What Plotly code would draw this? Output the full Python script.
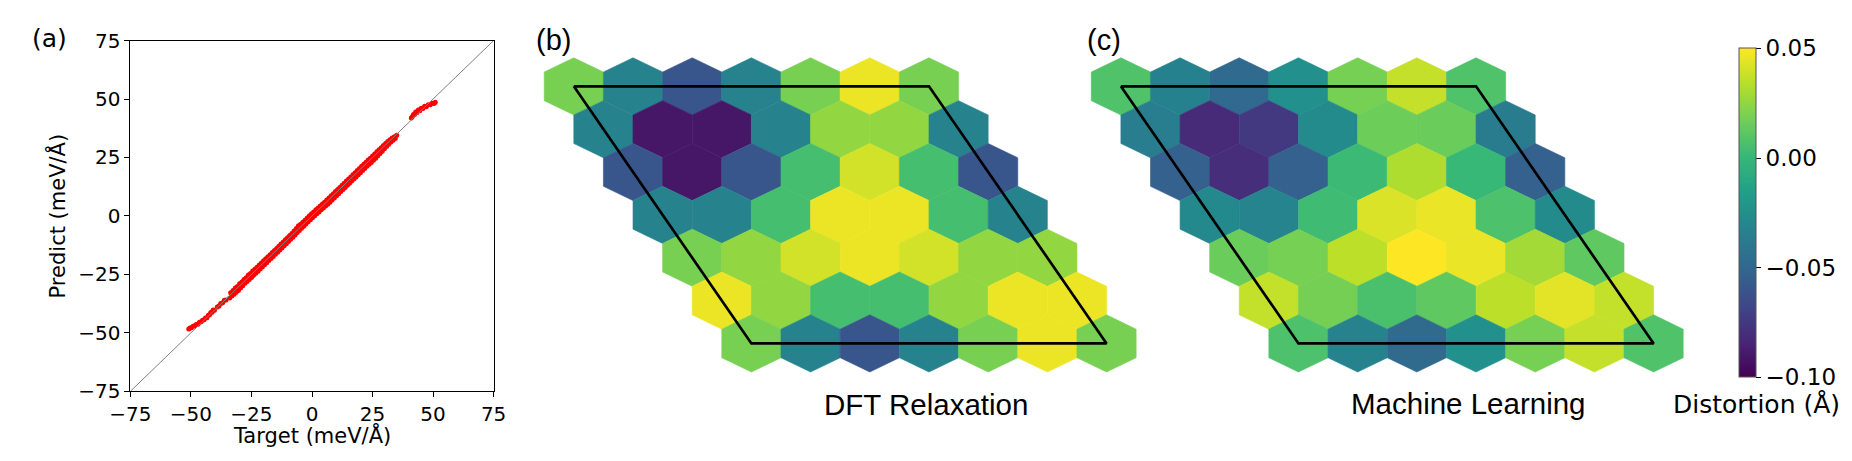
import plotly.graph_objects as go
from plotly.colors import sample_colorscale

W, H = 1852, 461

# ---------------- data ----------------
axis_a_ticks = [-75, -50, -25, 0, 25, 50, 75]
axis_a_text = ["\u221275", "\u221250", "\u221225", "0", "25", "50", "75"]
diag_line = [-75, 75]

target = [-50.9, -50.4, -49.8, -49.1, -48.5, -47.8, -47.1, -46.5, -45.8, -45.2,
          -44.6, -44.0, -43.4, -42.8, -42.3, -41.8, -41.3, -40.8, -40.3, -39.1,
          -38.4, -37.7, -36.9, -36.2, -35.5,
          -34.0, -33.6, -33.1, -32.6, -32.2, -31.7, -31.3, -30.8, -30.4, -29.9,
          -29.5, -29.0, -28.6, -28.1, -27.7, -27.2, -26.8, -26.3, -25.9, -25.4,
          -25.0, -24.5, -24.1, -23.6, -23.2, -22.7, -22.3, -21.8, -21.4, -20.9,
          -20.5, -20.0, -19.6, -19.1, -18.7, -18.2, -17.8, -17.3, -16.9, -16.4,
          -16.0, -15.5, -15.1, -14.6, -14.2, -13.7, -13.3, -12.8, -12.4, -11.9,
          -11.5, -11.0, -10.6, -10.1, -9.7, -9.2, -8.8, -8.3, -7.9, -7.4,
          -7.0, -6.5, -6.1, -5.6, -5.2, -4.7, -4.3, -3.8, -3.4, -2.9,
          -2.5, -2.0, -1.6, -1.1, -0.7, -0.2, 0.2, 0.7, 1.1, 1.6,
          2.0, 2.5, 2.9, 3.4, 3.8, 4.3, 4.7, 5.2, 5.6, 6.1,
          6.5, 7.0, 7.4, 7.9, 8.3, 8.8, 9.2, 9.7, 10.1, 10.6,
          11.0, 11.5, 11.9, 12.4, 12.8, 13.3, 13.7, 14.2, 14.6, 15.1,
          15.5, 16.0, 16.4, 16.9, 17.3, 17.8, 18.2, 18.7, 19.1, 19.6,
          20.0, 20.5, 20.9, 21.4, 21.8, 22.3, 22.7, 23.2, 23.6, 24.1,
          24.5, 25.0, 25.4, 25.9, 26.3, 26.8, 27.2, 27.7, 28.1, 28.6,
          29.0, 29.5, 29.9, 30.4, 30.8, 31.3, 31.7, 32.2, 32.6, 33.1,
          33.5, 34.0, 34.4, 35.0,
          41.0, 41.4, 41.9, 42.3, 42.8, 43.3, 43.9, 44.5, 45.1, 45.8,
          46.5, 47.2, 48.0, 48.8, 49.6, 50.4, 50.9]
predict = [-48.4, -47.9, -47.8, -47.2, -47.0, -46.4, -46.3, -45.5, -45.3, -44.6,
           -44.4, -43.6, -43.5, -42.5, -42.3, -41.3, -41.2, -40.2, -40.3, -38.9,
           -38.5, -37.5, -37.1, -36.1, -35.9,
           -35.1, -32.9, -34.2, -31.9, -33.5, -30.8, -32.6, -30.2, -31.9, -29.0,
           -30.8, -28.3, -29.9, -27.2, -28.8, -26.4, -28.0, -25.3, -27.2, -24.6,
           -26.3, -23.6, -25.4, -22.8, -24.5, -21.9, -23.7, -21.0, -22.7, -20.1,
           -21.8, -19.2, -20.9, -18.3, -20.0, -17.5, -19.1, -16.6, -18.2, -15.6,
           -17.3, -14.8, -16.4, -13.9, -15.5, -13.0, -14.6, -12.0, -13.7, -11.1,
           -12.8, -10.2, -11.9, -9.3, -10.9, -8.4, -10.0, -7.5, -9.1, -6.4,
           -8.1, -5.4, -7.1, -4.2, -6.2, -3.6, -5.3, -2.7, -4.4, -1.8,
           -3.4, -0.9, -2.5, 0.1, -1.6, 0.9, -0.8, 1.7, 0.1, 2.6,
           0.9, 3.4, 1.7, 4.3, 2.6, 5.1, 3.4, 5.9, 4.2, 6.8,
           5.0, 7.7, 5.9, 8.6, 6.8, 9.5, 7.7, 10.4, 8.6, 11.3,
           9.5, 12.2, 10.4, 13.1, 11.3, 14.0, 12.2, 14.9, 13.1, 15.8,
           14.0, 16.7, 14.9, 17.6, 15.8, 18.5, 16.7, 19.4, 17.6, 20.3,
           18.5, 21.2, 19.4, 22.1, 20.3, 23.0, 21.2, 23.9, 22.1, 24.7,
           22.9, 25.6, 23.8, 26.5, 24.7, 27.4, 25.7, 28.3, 26.7, 29.2,
           27.7, 30.1, 28.7, 31.0, 29.7, 31.8, 30.7, 32.6, 31.6, 33.3,
           32.4, 33.9, 33.1, 34.5,
           41.9, 42.4, 43.4, 43.3, 44.4, 44.1, 45.3, 45.0, 46.1, 45.9,
           46.9, 46.7, 47.6, 47.6, 48.2, 48.1, 48.6]

# distortion per hexagon (rows top -> bottom, columns left -> right)
dft_row0 = [0.019, -0.0325, -0.0595, -0.0325, 0.019, 0.046, 0.019]
dft_row1 = [-0.0325, -0.091, -0.091, -0.0325, 0.025, 0.025, -0.0325]
dft_row2 = [-0.0595, -0.091, -0.0595, 0.005, 0.040, 0.005, -0.0595]
dft_row3 = [-0.0325, -0.0325, 0.005, 0.046, 0.046, 0.005, -0.0325]
dft_row4 = [0.019, 0.025, 0.040, 0.046, 0.040, 0.025, 0.025]
dft_row5 = [0.046, 0.025, 0.005, 0.005, 0.025, 0.046, 0.046]
dft_row6 = [0.019, -0.0325, -0.0595, -0.0325, 0.019, 0.046, 0.019]

ml_row0 = [0.008, -0.034, -0.049, -0.025, 0.0185, 0.037, 0.008]
ml_row1 = [-0.036, -0.082, -0.0745, -0.028, 0.016, 0.0155, -0.037]
ml_row2 = [-0.0535, -0.0805, -0.0535, 0.002, 0.032, 0.001, -0.054]
ml_row3 = [-0.029, -0.032, 0.003, 0.042, 0.0455, 0.007, -0.028]
ml_row4 = [0.0155, 0.0185, 0.035, 0.05, 0.0455, 0.029, 0.0125]
ml_row5 = [0.0365, 0.018, 0.0065, 0.0125, 0.035, 0.044, 0.0365]
ml_row6 = [0.007, -0.033, -0.048, -0.025, 0.0185, 0.037, 0.008]

dft_grid = [dft_row0, dft_row1, dft_row2, dft_row3, dft_row4, dft_row5, dft_row6]
ml_grid = [ml_row0, ml_row1, ml_row2, ml_row3, ml_row4, ml_row5, ml_row6]

cbar_vals = [-0.10, -0.05, 0.00, 0.05]
cbar_text = ["\u22120.10", "\u22120.05", "0.00", "0.05"]
vmin, vmax = -0.10, 0.05

# ---------------- helpers ----------------
def fx(px):
    return px / W

def fy(py):
    return 1 - py / H

SANS = "DejaVu Sans"
ARIAL = "Liberation Sans, Arial"

fig = go.Figure()

# ---------------- panel (a) ----------------
fig.add_trace(go.Scatter(x=target, y=predict, mode="markers",
                         marker=dict(color="red", size=5, line=dict(width=0)),
                         xaxis="x", yaxis="y", hoverinfo="skip", showlegend=False))
fig.add_trace(go.Scatter(x=diag_line, y=diag_line, mode="lines",
                         line=dict(color="#808080", width=1),
                         xaxis="x", yaxis="y", hoverinfo="skip", showlegend=False))

# ---------------- hexagon panels ----------------
def hex_panel(grid, xa, ya):
    n_rows = len(grid)
    for r, row in enumerate(grid):
        for c, v in enumerate(row):
            cx = c + 0.5 * r
            cy = -r
            xs = [cx, cx + 0.5, cx + 0.5, cx, cx - 0.5, cx - 0.5, cx]
            ys = [cy + 2 / 3, cy + 1 / 3, cy - 1 / 3, cy - 2 / 3, cy - 1 / 3, cy + 1 / 3, cy + 2 / 3]
            col = sample_colorscale("Viridis", [(v - vmin) / (vmax - vmin)])[0]
            fig.add_trace(go.Scatter(x=xs, y=ys, mode="lines", fill="toself",
                                     fillcolor=col, line=dict(color=col, width=0.6),
                                     xaxis=xa, yaxis=ya, hoverinfo="skip",
                                     showlegend=False))
    last = n_rows - 1
    ncol = len(grid[0]) - 1
    corners = [(0, 0), (0, ncol), (last, ncol), (last, 0), (0, 0)]
    fig.add_trace(go.Scatter(x=[c + 0.5 * r for r, c in corners],
                             y=[-r for r, c in corners], mode="lines",
                             line=dict(color="black", width=2.7),
                             xaxis=xa, yaxis=ya, hoverinfo="skip", showlegend=False))

hex_panel(dft_grid, "x2", "y2")
hex_panel(ml_grid, "x3", "y3")

# colorbar
fig.add_trace(go.Scatter(x=[0], y=[0], mode="markers", xaxis="x3", yaxis="y3",
                         marker=dict(size=0.1, opacity=0, color=[0], colorscale="Viridis",
                                     cmin=vmin, cmax=vmax, showscale=True,
                                     colorbar=dict(x=fx(1741.5), xanchor="left",
                                                   y=fy(203.5), yanchor="middle",
                                                   len=328.5, lenmode="pixels",
                                                   thickness=17, thicknessmode="pixels",
                                                   outlinewidth=1, outlinecolor="#555",
                                                   ticks="outside", ticklen=5, tickwidth=1,
                                                   tickcolor="black",
                                                   tickvals=cbar_vals, ticktext=cbar_text,
                                                   tickfont=dict(family=SANS, size=23, color="black"),
                                                   xpad=0, ypad=0)),
                         hoverinfo="skip", showlegend=False))

# hex geometry (pixels)
DX, DY = 60.3, 45.2
B0X, C0X, R0Y = 555.0, 1112.3, 70.0
bL, bR = 505, 1150
cL, cR = 1062, 1707
pT, pB = 28, 388

axis_a = dict(range=[-75, 75], tickvals=axis_a_ticks, ticktext=axis_a_text,
              ticks="outside", ticklen=5, tickwidth=1, tickcolor="black",
              showline=True, linecolor="black", linewidth=1, mirror=True,
              showgrid=False, zeroline=False,
              tickfont=dict(family=SANS, size=20, color="black"), fixedrange=True)

hidden = dict(visible=False, showgrid=False, zeroline=False, fixedrange=True)

fig.update_layout(
    width=W, height=H,
    margin=dict(l=0, r=0, t=0, b=0),
    paper_bgcolor="white", plot_bgcolor="rgba(0,0,0,0)",
    showlegend=False,
    xaxis=dict(domain=[fx(103.3), fx(473.3)], anchor="y", **axis_a),
    yaxis=dict(domain=[fy(391.7), fy(21.7)], anchor="x", **axis_a),
    xaxis2=dict(domain=[fx(bL), fx(bR)], range=[(bL - B0X) / DX, (bR - B0X) / DX],
                anchor="y2", **hidden),
    yaxis2=dict(domain=[fy(pB), fy(pT)], range=[-(pB - R0Y) / DY, (R0Y - pT) / DY],
                anchor="x2", **hidden),
    xaxis3=dict(domain=[fx(cL), fx(cR)], range=[(cL - C0X) / DX, (cR - C0X) / DX],
                anchor="y3", **hidden),
    yaxis3=dict(domain=[fy(pB), fy(pT)], range=[-(pB - R0Y) / DY, (R0Y - pT) / DY],
                anchor="x3", **hidden),
)

def ann(text, x, y, size, family, xanchor="center", yanchor="middle", angle=0):
    fig.add_annotation(text=text, x=fx(x), y=fy(y), xref="paper", yref="paper",
                       xanchor=xanchor, yanchor=yanchor, showarrow=False,
                       textangle=angle, font=dict(family=family, size=size, color="black"))

ann("(a)", 1, 20, 25, SANS, xanchor="left")
ann("Target (meV/\u00c5)", 288.3, 438, 21, SANS)
ann("Predict (meV/\u00c5)", 28, 206.7, 21, SANS, angle=-90)
ann("(b)", 514, 21, 29, ARIAL, xanchor="left")
ann("(c)", 1076, 21, 29, ARIAL, xanchor="left")
ann("DFT Relaxation", 914, 406, 29.5, ARIAL)
ann("Machine Learning", 1466, 405, 29.5, ARIAL)
ann("Distortion (\u00c5)", 1760, 406, 25, SANS)

fig.write_html("out.html")
